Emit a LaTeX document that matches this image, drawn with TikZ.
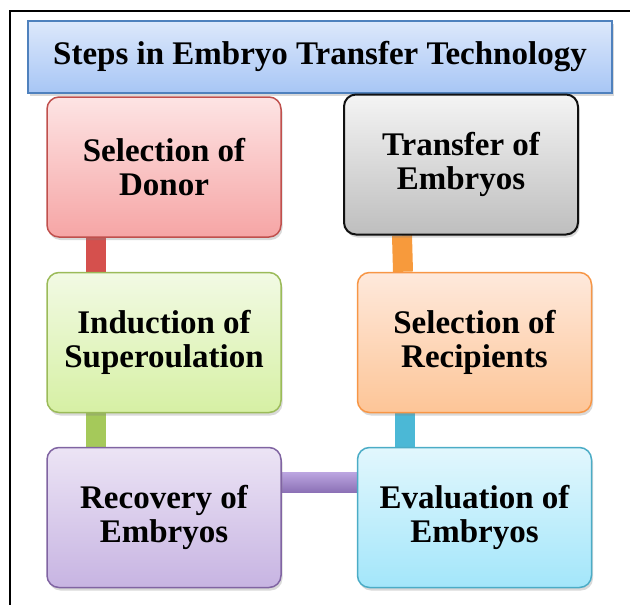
\documentclass[tikz,border=0pt]{standalone}
\usepackage{fontspec}
\setmainfont{Liberation Serif}
\usetikzlibrary{shadows,backgrounds}

\definecolor{titleline}{HTML}{4F81BD}
\definecolor{titletop}{HTML}{DDE8FB}
\definecolor{titlebot}{HTML}{A7C6F5}
\definecolor{donorline}{HTML}{C0504D}
\definecolor{donortop}{HTML}{FDE4E4}
\definecolor{donorbot}{HTML}{F6A5A5}
\definecolor{inductline}{HTML}{9BBB59}
\definecolor{inducttop}{HTML}{F2FAE4}
\definecolor{inductbot}{HTML}{D6F0A4}
\definecolor{transferline}{HTML}{111111}
\definecolor{transfertop}{HTML}{F4F4F4}
\definecolor{transferbot}{HTML}{BEBEBE}
\definecolor{recipline}{HTML}{F79646}
\definecolor{reciptop}{HTML}{FEE9DC}
\definecolor{recipbot}{HTML}{FDC597}
\definecolor{recovline}{HTML}{8064A2}
\definecolor{recovtop}{HTML}{ECE4F5}
\definecolor{recovbot}{HTML}{C7B4E2}
\definecolor{evalline}{HTML}{4BACC6}
\definecolor{evaltop}{HTML}{E2F7FD}
\definecolor{evalbot}{HTML}{A3E6FA}
\definecolor{redbar}{HTML}{D5504D}
\definecolor{greenbar}{HTML}{A5C95A}
\definecolor{purpletop}{HTML}{BBA5E0}
\definecolor{purplebot}{HTML}{8B70B5}
\definecolor{cyanbar}{HTML}{4BB8D6}
\definecolor{orangebar}{HTML}{F79A3C}

\begin{document}
\begin{tikzpicture}[x=1pt,y=-1pt,
    stepbox/.style={rectangle, rounded corners=12pt, minimum width=234pt,
        minimum height=140pt, line width=1.5pt, align=center,
        font=\fontsize{33}{33.5}\selectfont\bfseries,
        drop shadow={opacity=0.3, shadow xshift=1.5pt, shadow yshift=-3pt}},
    bar/.style={line width=20pt}]
    \useasboundingbox (0,0) rectangle (630,611);
    % frame
    \draw[line width=2pt] (630,11) -- (10,11) -- (10,605);
    % title
    \node[rectangle, minimum width=584pt, minimum height=72pt, line width=1.5pt,
        draw=titleline, top color=titletop, bottom color=titlebot,
        font=\fontsize{33}{33.5}\selectfont\bfseries,
        drop shadow={opacity=0.3, shadow xshift=1.5pt, shadow yshift=-3pt}]
        (title) at (320,57) {Steps in Embryo Transfer Technology};
    % steps
    \node[stepbox, draw=donorline, top color=donortop, bottom color=donorbot]
        (donor) at (164,167) {Selection of\\Donor};
    \node[stepbox, draw=inductline, top color=inducttop, bottom color=inductbot]
        (induct) at (164,342.5) {Induction of\\Superoulation};
    \node[stepbox, draw=recovline, top color=recovtop, bottom color=recovbot]
        (recov) at (164,517.5) {Recovery of\\Embryos};
    \node[stepbox, draw=evalline, top color=evaltop, bottom color=evalbot]
        (evalu) at (474.5,517.5) {Evaluation of\\Embryos};
    \node[stepbox, draw=recipline, top color=reciptop, bottom color=recipbot]
        (recip) at (474.5,342.5) {Selection of\\Recipients};
    \node[stepbox, draw=transferline, line width=2pt, top color=transfertop, bottom color=transferbot]
        (transfer) at (461,164.5) {Transfer of\\Embryos};
    % connecting bars
    \begin{scope}[on background layer]
        \draw[bar, redbar] ([xshift=-68pt]donor.south) -- ([xshift=-68pt]induct.north);
        \draw[bar, greenbar] ([xshift=-68pt]induct.south) -- ([xshift=-68pt]recov.north);
        \shade[top color=purpletop, bottom color=purplebot]
            ([yshift=45pt]recov.east) rectangle ([yshift=25pt]evalu.west);
        \draw[bar, cyanbar] ([xshift=-69.5pt]evalu.north) -- ([xshift=-69.5pt]recip.south);
        \draw[bar, orangebar] ([xshift=-71.5pt]recip.north) -- ([xshift=-59pt]transfer.south);
    \end{scope}
\end{tikzpicture}
\end{document}
